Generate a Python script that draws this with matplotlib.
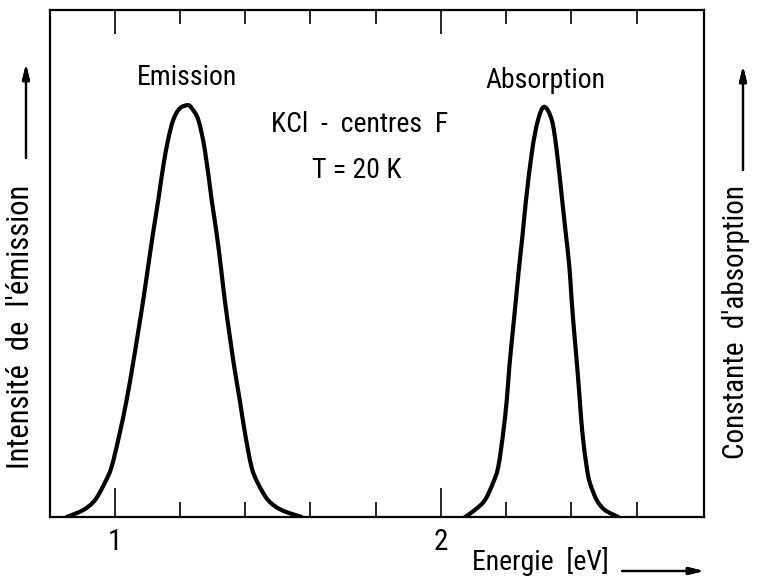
import matplotlib
matplotlib.use("Agg")
import matplotlib.pyplot as plt
from matplotlib.path import Path
from matplotlib.patches import PathPatch

plt.rcParams['font.family'] = ['Roboto Condensed', 'Liberation Sans Narrow', 'DejaVu Sans']
plt.rcParams['font.stretch'] = 'condensed'

# Photon energy (eV) and normalised intensity of the F-centre bands in KCl
emission_energy = [0.852, 0.903, 0.939, 0.969, 0.990, 1.015, 1.036, 1.054, 1.071,
                   1.087, 1.102, 1.117, 1.133, 1.148, 1.163, 1.179, 1.199, 1.224,
                   1.236, 1.256, 1.276, 1.297, 1.312, 1.325, 1.337, 1.351, 1.366,
                   1.383, 1.399, 1.419, 1.438, 1.470, 1.511, 1.573]
emission_intensity = [0.000, 0.017, 0.041, 0.083, 0.122, 0.204, 0.284, 0.365, 0.447,
                      0.527, 0.608, 0.689, 0.769, 0.850, 0.915, 0.964, 0.992, 1.000,
                      0.992, 0.964, 0.891, 0.769, 0.689, 0.608, 0.527, 0.447, 0.365,
                      0.284, 0.204, 0.122, 0.083, 0.041, 0.017, 0.000]

absorption_energy = [2.074, 2.104, 2.135, 2.160, 2.176, 2.191, 2.202, 2.210, 2.220,
                     2.230, 2.240, 2.251, 2.261, 2.280, 2.298, 2.317,
                     2.340, 2.355, 2.372, 2.383, 2.394, 2.401, 2.409, 2.418, 2.426,
                     2.434, 2.447, 2.457, 2.478, 2.503, 2.544]
absorption_coeff = [0.000, 0.017, 0.041, 0.083, 0.122, 0.204, 0.284, 0.365, 0.447,
                    0.527, 0.608, 0.689, 0.769, 0.891, 0.964, 0.996,
                    0.964, 0.891, 0.769, 0.689, 0.608, 0.527, 0.447, 0.365, 0.284,
                    0.204, 0.122, 0.083, 0.041, 0.017, 0.000]

major_ticks = [1, 2]
major_labels = ["1", "2"]
minor_ticks = [1.2, 1.4, 1.6, 1.8, 2.2, 2.4, 2.6]

W, H = 759, 580
fig = plt.figure(figsize=(W / 100, H / 100), dpi=100)
ax = fig.add_axes([50 / W, (H - 517) / H, 654 / W, 507 / H])


def smooth_curve(xs, ys):
    """Catmull-Rom curve through the measured points, as cubic Bezier segments."""
    pts = list(zip(xs, ys))
    ext = [pts[0]] + pts + [pts[-1]]
    verts = [pts[0]]
    codes = [Path.MOVETO]
    for i in range(1, len(ext) - 2):
        p0, p1, p2, p3 = ext[i - 1], ext[i], ext[i + 1], ext[i + 2]
        c1 = (p1[0] + (p2[0] - p0[0]) / 6, p1[1] + (p2[1] - p0[1]) / 6)
        c2 = (p2[0] - (p3[0] - p1[0]) / 6, p2[1] - (p3[1] - p1[1]) / 6)
        verts += [c1, c2, p2]
        codes += [Path.CURVE4] * 3
    return PathPatch(Path(verts, codes), fill=False, edgecolor='black', lw=3.0,
                     joinstyle='round', capstyle='round', transform=ax.transData)


for xs, ys in [(emission_energy, emission_intensity),
               (absorption_energy, absorption_coeff)]:
    ax.add_patch(smooth_curve(xs, ys))

ax.set_xlim(0.801, 2.807)
ax.set_ylim(0, 1.231)
for s in ax.spines.values():
    s.set_linewidth(1.6)

ax.set_yticks([])
ax.set_xticks(major_ticks)
ax.set_xticklabels(major_labels, fontsize=21)
ax.set_xticks(minor_ticks, minor=True)
ax.tick_params(axis='x', which='major', direction='in', length=21, width=1.2, pad=8)
ax.tick_params(axis='x', which='minor', direction='in', length=11, width=1.2)

top = ax.secondary_xaxis('top')
top.set_xticks(major_ticks)
top.set_xticklabels([])
top.set_xticks(minor_ticks, minor=True)
top.tick_params(axis='x', which='major', direction='in', length=17, width=1.2)
top.tick_params(axis='x', which='minor', direction='in', length=10, width=1.2)
top.spines['top'].set_visible(False)


def fx(px):
    return px / W


def fy(py):
    return 1 - py / H


fs = 20
fig.text(fx(187), fy(85), "Emission", ha='center', va='baseline', fontsize=fs)
fig.text(fx(545), fy(88), "Absorption", ha='center', va='baseline', fontsize=fs)
fig.text(fx(360), fy(132), "KCl  -  centres  F", ha='center', va='baseline', fontsize=fs)
fig.text(fx(357), fy(178), "T = 20 K", ha='center', va='baseline', fontsize=fs)

fig.text(fx(21), fy(327), "Intensité  de  l'émission", rotation=90,
         ha='center', va='center', fontsize=22)
fig.text(fx(736), fy(322), "Constante  d'absorption", rotation=90,
         ha='center', va='center', fontsize=21)
fig.text(fx(540), fy(570), "Energie  [eV]", ha='center', va='baseline', fontsize=fs)

arrow = dict(arrowstyle='-|>,head_length=0.9,head_width=0.22', color='black',
             lw=1.6, shrinkA=0, shrinkB=0)
fig.add_artist(plt.annotate("", xy=(fx(26), fy(64)), xytext=(fx(26), fy(158)),
                            xycoords='figure fraction', arrowprops=arrow))
fig.add_artist(plt.annotate("", xy=(fx(743), fy(66)), xytext=(fx(743), fy(170)),
                            xycoords='figure fraction', arrowprops=arrow))
fig.add_artist(plt.annotate("", xy=(fx(704), fy(571)), xytext=(fx(622), fy(571)),
                            xycoords='figure fraction', arrowprops=arrow))

fig.savefig("out.png", dpi=100)
